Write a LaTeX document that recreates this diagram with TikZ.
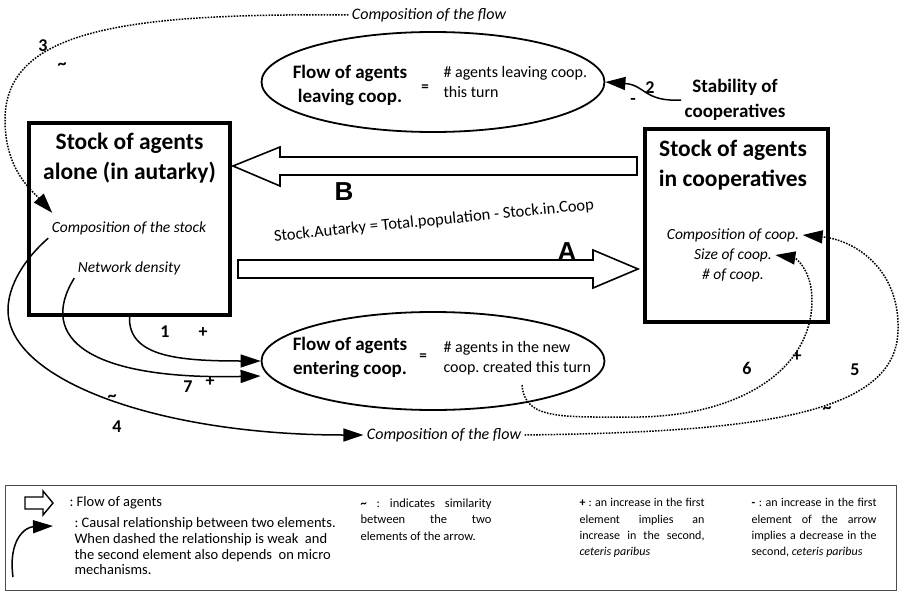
\documentclass[tikz,border=0pt]{standalone}
\usepackage{fontspec}
\setmainfont{Carlito}
\newfontfamily\arialfont{Liberation Sans}
\usetikzlibrary{arrows.meta,shapes.geometric,calc}
\newcommand{\setfs}[2]{\fontsize{#1}{#2}\selectfont}
\frenchspacing
\tikzset{
  stockbox/.style={draw,line width=3.5pt,inner sep=0pt},
  flowell/.style={draw,ellipse,line width=1.8pt,minimum width=343pt,inner sep=0pt},
  boxtitle/.style={align=center,font=\setfs{23.5}{30}\bfseries},
  elltitle/.style={align=center,font=\setfs{19}{24}\bfseries},
  elltext/.style={anchor=west,align=left,font=\setfs{16}{20}},
  itlab/.style={font=\setfs{15.5}{20}\itshape},
  numlab/.style={font=\setfs{18}{18}\bfseries},
  bigflow/.style={draw,line width=1.6pt,fill=white,line join=miter},
  causal/.style={line width=1.5pt,-{Triangle[length=20pt,width=13pt]}},
  weak/.style={causal,dash pattern=on 1.6pt off 1.3pt},
  legtext/.style={anchor=north west,align=justify,font=\setfs{12}{16.2}}
}
\begin{document}
\begin{tikzpicture}[x=1pt,y=1pt]
\useasboundingbox (0,0) rectangle (902,-597);
\node[stockbox,minimum width=201pt,minimum height=192pt] (alone) at (129.5,-219) {};
\node[stockbox,minimum width=183pt,minimum height=193pt] (coop) at (736.5,-225.5) {};
\node[flowell,minimum height=100pt] (leaving) at (433,-82) {};
\node[flowell,minimum height=98pt] (entering) at (433,-361) {};
\node[boxtitle] (alonetitle) at (129.5,-158) {Stock of agents\\alone (in autarky)};
\node[boxtitle] (cooptitle) at (733,-165) {Stock of agents\\in cooperatives};
\node[itlab] (compstock) at (129,-228) {Composition of the stock};
\node[itlab] (density) at (129,-268) {Network density};
\node[itlab] (compcoop) at (733,-235) {Composition of coop.};
\node[itlab] (sizecoop) at (733,-255) {Size of coop.};
\node[itlab] (numcoop) at (733,-275) {\# of coop.};
\node[itlab,font=\setfs{16}{20}\itshape] (topflow) at (429,-15) {Composition of the flow};
\node[itlab,font=\setfs{16}{20}\itshape] (botflow) at (444,-435) {Composition of the flow};
\node[elltitle] (leavingtitle) at (350,-85) {Flow of agents\\leaving coop.};
\node[font=\setfs{15}{15}\bfseries] (leavingeq) at (425,-88) {=};
\node[elltext] (leavingtext) at (440,-82.5) {\# agents leaving coop.\\this turn};
\node[elltitle] (enteringtitle) at (350,-357) {Flow of agents\\entering coop.};
\node[font=\setfs{15}{15}\bfseries] (enteringeq) at (423,-357) {=};
\node[elltext] (enteringtext) at (440,-358) {\# agents in the new\\coop. created this turn};
\node[align=center,font=\setfs{19}{25}\bfseries] (stability) at (735,-100) {Stability of\\cooperatives};
\node[font=\setfs{26}{26}\arialfont\bfseries] (labB) at (344,-192) {B};
\node[font=\setfs{26}{26}\arialfont\bfseries] (labA) at (567,-252) {A};
\node[font=\setfs{16.5}{16.5},rotate=5.7] (formula) at (434,-221) {Stock.Autarky = Total.population - Stock.in.Coop};
\draw[bigflow] (233,-166) -- (280,-147) -- (280,-157) -- (637,-157) -- (637,-175) -- (280,-175) -- (280,-186) -- cycle;
\draw[bigflow] (238,-260) -- (593,-260) -- (593,-250) -- (638,-269) -- (593,-288) -- (593,-278) -- (238,-278) -- cycle;
\coordinate (newstart) at (522,-385);
\draw[causal] (alone.south) .. controls +(-1.5,-40) and +(-82,0) .. (entering.west);
\draw[causal] (density.south west) .. controls +(-37,-60) and +(-172,-4) .. ($(entering.west)+(0,-15)$);
\draw[causal] (compstock.south west) .. controls +(-23,-20) and +(0,25) .. (8,-310) .. controls +(0,-70) and +(-205,0) .. (botflow.west);
\draw[causal] (stability.west) .. controls +(-37,-2) and +(40,-3) .. (leaving.east);
\draw[weak] (topflow.west) .. controls +(-225,2) and +(0,90) .. (5,-120) .. controls +(0,-50) and +(-20,22) .. ($(compstock.north west)+(4,5)$);
\draw[weak] (botflow.east) .. controls +(233,3) and +(-1,-85) .. (898,-330) .. controls +(2,60) and +(53,-5) .. (compcoop.east);
\draw[weak] (newstart) .. controls +(3,-35) and +(-80,0) .. (640,-417) .. controls +(100,2) and +(0,-70) .. (812,-300) .. controls +(0,30) and +(20,-3) .. (sizecoop.east);
\node[numlab] (n1) at (165,-332) {1};
\node[numlab] (p1) at (203,-333) {+};
\node[numlab] (n2) at (650,-88) {2};
\node[numlab] (m2) at (633,-101) {-};
\node[numlab] (n3) at (43,-46) {3};
\node[numlab] (t3) at (62,-66) {\textasciitilde};
\node[numlab] (n4) at (117,-427) {4};
\node[numlab] (t4) at (112,-398) {\textasciitilde};
\node[numlab] (n5) at (855,-370) {5};
\node[numlab] (t5) at (827,-410) {\textasciitilde};
\node[numlab] (n6) at (747,-368) {6};
\node[numlab] (p6) at (797,-357) {+};
\node[numlab] (n7) at (188,-387) {7};
\node[numlab] (p7) at (210,-382) {+};
\draw[line width=1pt,draw=black!70] (5,-485) rectangle (896,-590);
\draw[bigflow,line width=1.4pt] (25,-497) -- (43,-497) -- (43,-491) -- (53,-503) -- (43,-515) -- (43,-509) -- (25,-509) -- cycle;
\coordinate (legstart) at (13,-577);
\coordinate (legend) at (53,-526);
\draw[causal] (legstart) .. controls +(-5,37) and +(-28,-1) .. (legend);
\node[anchor=west,font=\setfs{14.5}{16}] (legflow) at (66,-503) {: Flow of agents};
\node[anchor=north west,align=left,font=\setfs{14.5}{15.7}] (legcausal) at (71,-514) {: Causal relationship between two elements.\\When dashed the relationship is weak~ and\\the second element also depends~ on micro\\mechanisms.};
\node[legtext,font=\setfs{12.5}{16.5},text width=131pt] (legsim) at (357,-495) {{\bfseries\textasciitilde} : indicates similarity\linebreak between the two\linebreak elements of the arrow.};
\node[legtext,text width=125pt] (legplus) at (576,-495) {{\bfseries +} : an increase in the first\linebreak element implies an\linebreak increase in the second,\linebreak \textit{ceteris paribus}};
\node[legtext,text width=125pt] (legminus) at (748,-495) {{\bfseries -} : an increase in the first\linebreak element of the arrow\linebreak implies a decrease in the\linebreak second, \textit{ceteris paribus}};
\end{tikzpicture}
\end{document}
